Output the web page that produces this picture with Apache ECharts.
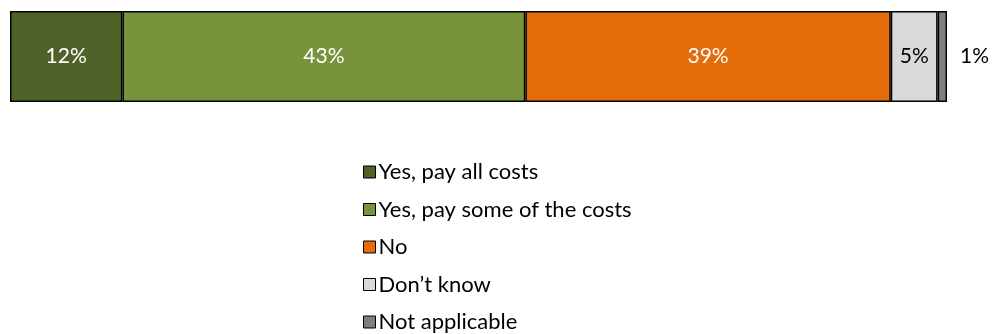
<!DOCTYPE html>
<html>
<head>
<meta charset="utf-8">
<script src="https://cdn.jsdelivr.net/npm/echarts@6/dist/echarts.min.js"></script>
<style>
  html, body { margin: 0; padding: 0; background: #fff; }
  #chart { width: 993px; height: 334px; }
</style>
</head>
<body>
<div id="chart"></div>
<script>
// Share of respondents by answer, one stacked bar
const categories = [''];
const seriesNames = ['Yes, pay all costs', 'Yes, pay some of the costs', 'No', "Don\u2019t know", 'Not applicable'];
const seriesValues = [12, 43, 39, 5, 1];
const seriesColors = ['#4F6228', '#77933C', '#E46C0A', '#D9D9D9', '#7F7F7F'];
const labelColors = ['#ffffff', '#ffffff', '#ffffff', '#000000', '#000000'];

const FONT = 'Lato, "Open Sans", sans-serif';

const series = seriesNames.map((name, i) => ({
  name: name,
  type: 'bar',
  stack: 'total',
  barWidth: 91,
  data: [seriesValues[i]],
  itemStyle: { color: seriesColors[i], borderColor: '#000', borderWidth: 1.5 },
  label: {
    show: true,
    position: i === seriesNames.length - 1 ? 'right' : 'inside',
    distance: 13,
    formatter: '{c}%',
    color: labelColors[i],
    fontFamily: FONT,
    fontSize: 21
  },
  emphasis: { disabled: true }
}));

const chart = echarts.init(document.getElementById('chart'), null, { renderer: 'canvas' });
chart.setOption({
  animation: false,
  grid: { left: 10, top: 11, width: 937, height: 91, containLabel: false },
  xAxis: { type: 'value', min: 0, max: 100, show: false },
  yAxis: { type: 'category', data: categories, show: false },
  legend: {
    orient: 'vertical',
    left: 358,
    top: 156,
    height: 200,
    itemWidth: 12,
    itemHeight: 12,
    itemGap: 15.5,
    icon: 'rect',
    itemStyle: { borderColor: '#000', borderWidth: 1 },
    textStyle: { fontFamily: FONT, fontSize: 22, color: '#000', lineHeight: 20, padding: [0, 0, 0, -2] },
    data: seriesNames
  },
  series: series
});
</script>
</body>
</html>
